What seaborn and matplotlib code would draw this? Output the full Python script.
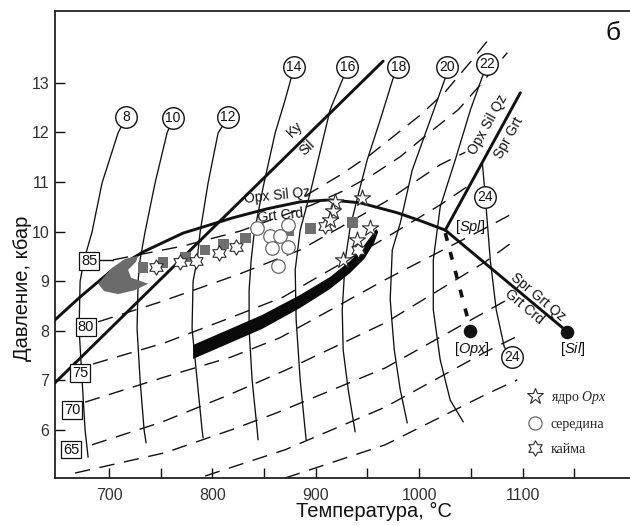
import matplotlib
matplotlib.use("Agg")
import matplotlib.pyplot as plt
from matplotlib.path import Path
from matplotlib.lines import Line2D
import seaborn as sns

# ---------------- data (T, °C ; P, kbar) ----------------
# solid isopleths (numbers in circles)
iso8_T = [679.7, 676.8, 673.9, 671.0, 672.0, 675.8, 683.5, 693.2, 708.7, 716.5]
iso8_P = [5.45, 6.00, 7.01, 8.04, 9.00, 9.43, 9.99, 10.98, 11.99, 12.31]
iso10_T = [735.8, 733.9, 730.0, 727.1, 728.1, 730.0, 734.8, 744.5, 756.1, 762.0]
iso10_P = [5.74, 6.00, 7.01, 8.04, 9.00, 9.43, 9.99, 10.98, 11.99, 12.29]
iso12_T = [791.0, 790.0, 785.2, 780.3, 781.3, 785.2, 788.1, 795.8, 805.5, 815.2]
iso12_P = [5.84, 6.00, 7.01, 8.04, 9.00, 9.43, 9.99, 10.98, 11.99, 12.31]
iso14_T = [844.2, 843.3, 838.4, 835.5, 835.5, 837.5, 840.4, 849.1, 860.7, 870.4, 879.1]
iso14_P = [5.80, 6.00, 7.01, 8.02, 8.82, 9.43, 9.97, 10.90, 11.99, 12.66, 13.32]
iso16_T = [890.7, 889.7, 884.9, 881.0, 880.1, 884.9, 894.6, 902.3, 913.9, 926.5, 930.4]
iso16_P = [5.80, 6.00, 7.01, 8.22, 9.23, 10.03, 10.78, 11.45, 12.46, 13.10, 13.32]
iso18_T = [938.1, 931.4, 926.5, 925.6, 928.5, 933.3, 941.0, 949.8, 962.3, 974.9, 979.8]
iso18_P = [5.96, 6.81, 7.61, 8.42, 9.43, 10.09, 10.74, 11.45, 12.25, 13.10, 13.32]
iso20_T = [988.5, 981.7, 975.9, 972.0, 974.0, 981.7, 993.3, 1010.7, 1025.3, 1027.2]
iso20_P = [6.14, 6.81, 7.62, 8.63, 9.63, 10.17, 11.24, 12.25, 13.10, 13.32]
iso22_T = [1042.7, 1030.1, 1020.4, 1013.7, 1013.7, 1020.4, 1035.0, 1049.5, 1061.1, 1065.9]
iso22_P = [6.16, 6.60, 7.41, 8.42, 9.43, 10.50, 11.45, 12.45, 13.12, 13.38]
iso24a_T = [1061.1, 1064.0]
iso24a_P = [11.40, 10.70]
iso24b_T = [1064.0, 1068.8, 1074.6, 1082.4, 1090.1]
iso24b_P = [10.70, 9.43, 8.42, 7.67, 7.47]

circ_labels = ["8", "10", "12", "14", "16", "18", "20", "22", "24", "24"]
circ_T = [716.5, 762.0, 815.2, 879.1, 930.4, 979.8, 1027.2, 1065.9, 1064.0, 1090.1]
circ_P = [12.31, 12.29, 12.31, 13.32, 13.32, 13.32, 13.32, 13.38, 10.70, 7.47]

# dashed isopleths (numbers in boxes)
d90_T = [889.7, 923.6, 952.7, 976.9, 1001.1, 1025.3, 1049.5, 1070.8]
d90_P = [10.72, 11.14, 11.55, 11.95, 12.35, 12.82, 13.42, 13.97]
d85_T = [703.9, 771.6, 826.8, 896.5, 928.5, 954.6, 981.7, 1010.7, 1037.9, 1059.1, 1085.3]
d85_P = [9.43, 9.71, 10.01, 10.54, 10.84, 11.14, 11.51, 12.01, 12.46, 12.96, 13.61]
d80_T = [689.4, 749.4, 826.8, 884.9, 967.2, 1020.4, 1044.6]
d80_P = [8.18, 8.58, 9.15, 9.63, 10.60, 11.35, 11.60]
d75_T = [684.5, 754.2, 817.1, 868.4, 967.2, 1020.4, 1049.5]
d75_P = [7.33, 7.76, 8.26, 8.68, 9.87, 10.54, 10.95]
d70_T = [676.8, 754.2, 818.1, 865.5, 967.2, 1064.0, 1088.2]
d70_P = [6.56, 7.07, 7.47, 7.86, 9.03, 10.07, 10.34]
d65_T = [683.5, 751.3, 815.2, 871.3, 967.2, 1064.0, 1093.0]
d65_P = [5.70, 6.16, 6.70, 7.21, 8.16, 9.39, 9.83]
d60_T = [667.1, 754.2, 818.1, 861.7, 967.2, 1064.0, 1088.2]
d60_P = [5.13, 5.54, 6.00, 6.34, 7.25, 8.38, 8.66]
d55_T = [792.9, 870.4, 967.2, 1064.0, 1097.9]
d55_P = [5.07, 5.60, 6.46, 7.57, 7.92]
d50_T = [870.4, 967.2, 1064.0, 1095.0]
d50_P = [5.03, 5.70, 6.71, 7.01]
lead85_T = [689.4, 703.9]
lead85_P = [9.43, 9.43]

box_labels = ["85", "80", "75", "70", "65"]
box_T = [680.6, 677.7, 671.9, 664.2, 663.2]
box_P = [9.41, 8.08, 7.15, 6.40, 5.60]

# reaction lines
rx_T = [647.7, 671.9, 701.0, 732.9, 771.6, 820.0, 852.9, 884.9, 913.9, 943.0, 978.8, 1001.1, 1025.3]
rx_P = [8.22, 8.68, 9.19, 9.59, 9.97, 10.28, 10.46, 10.60, 10.64, 10.58, 10.38, 10.22, 10.03]
kysil_T = [647.7, 965.2]
kysil_P = [6.95, 13.44]
splsil_T = [1025.3, 1143.4]
splsil_P = [10.03, 7.98]
splup_T = [1025.3, 1097.9]
splup_P = [10.03, 12.80]
splopx_T = [1025.3, 1049.5]
splopx_P = [9.97, 8.05]
inv_T = [1049.5, 1143.4]
inv_P = [8.00, 7.98]

# P-T path band and grey field
band_T = [781.3, 817.1, 848.1, 884.9, 913.9, 933.3, 944.9, 953.6, 958.5, 960.4,
          956.5, 946.9, 933.3, 913.9, 884.9, 848.1, 817.1, 781.3]
band_P = [7.714, 8.037, 8.319, 8.723, 9.086, 9.409, 9.671, 9.913, 10.054, 9.994,
          9.772, 9.449, 9.167, 8.844, 8.460, 8.037, 7.755, 7.432]
blob_T = [689.4, 702.9, 715.5, 728.1, 726.1, 718.4, 721.3, 737.8, 725.2, 708.7, 695.2]
blob_P = [8.95, 9.27, 9.45, 9.51, 9.39, 9.23, 9.07, 8.95, 8.82, 8.74, 8.80]

# analyses
sq_T = [732.9, 752.3, 773.6, 792.9, 810.4, 831.7, 873.3, 894.6, 935.2]
sq_P = [9.27, 9.37, 9.49, 9.63, 9.75, 9.87, 10.01, 10.07, 10.19]
mid_T = [843.3, 855.9, 865.5, 873.3, 857.8, 873.3, 863.6]
mid_P = [10.07, 9.91, 9.91, 10.14, 9.67, 9.69, 9.31]
core_T = [918.8, 944.9, 916.8, 913.9, 952.7, 940.1, 926.5]
core_P = [10.60, 10.68, 10.42, 10.24, 10.07, 9.83, 9.43]
rim_T = [745.5, 768.7, 784.2, 806.5, 822.9, 909.1, 941.0]
rim_P = [9.29, 9.39, 9.41, 9.57, 9.69, 10.11, 9.63]

# ---------------- figure ----------------
sns.set_theme(style="ticks")
plt.rcParams['font.family'] = ['Liberation Sans', 'DejaVu Sans']
plt.rcParams['mathtext.fontset'] = 'custom'
plt.rcParams['mathtext.rm'] = 'Liberation Serif'
plt.rcParams['mathtext.it'] = 'Liberation Serif:italic'
plt.rcParams['mathtext.sf'] = 'Liberation Sans:italic'

fig = plt.figure(figsize=(6.3, 5.26), dpi=100, facecolor='white')
ax = fig.add_axes([55/630, 48/526, 575/630, 467/526])
ax.set_facecolor('white')
ax.set_xlim(647.7, 1204)
ax.set_ylim(5.03, 14.45)

K = '#111111'

def draw(T, P, **kw):
    sns.lineplot(x=T, y=P, ax=ax, sort=False, estimator=None, legend=False, **kw)

# dashed isopleths
for T, P in [(d90_T, d90_P), (d85_T, d85_P), (d80_T, d80_P), (d75_T, d75_P),
             (d70_T, d70_P), (d65_T, d65_P), (d60_T, d60_P), (d55_T, d55_P),
             (d50_T, d50_P)]:
    draw(T, P, color=K, linewidth=1.0, linestyle=(0, (11, 7)), zorder=2)
draw(lead85_T, lead85_P, color=K, linewidth=1.0, zorder=2)

# solid isopleths
for T, P in [(iso8_T, iso8_P), (iso10_T, iso10_P), (iso12_T, iso12_P),
             (iso14_T, iso14_P), (iso16_T, iso16_P), (iso18_T, iso18_P),
             (iso20_T, iso20_P), (iso22_T, iso22_P), (iso24a_T, iso24a_P),
             (iso24b_T, iso24b_P)]:
    draw(T, P, color=K, linewidth=0.95, zorder=3)

# reaction lines
for T, P in [(rx_T, rx_P), (kysil_T, kysil_P), (splsil_T, splsil_P), (splup_T, splup_P)]:
    draw(T, P, color=K, linewidth=2.1, zorder=4)
draw(splopx_T, splopx_P, color=K, linewidth=2.6, linestyle=(0, (2.2, 3.2)), zorder=4)
sns.scatterplot(x=inv_T, y=inv_P, ax=ax, s=95, color=K, edgecolor=K, linewidth=0, zorder=6, legend=False)

# grey field and path
ax.fill(blob_T, blob_P, color='#6b6b6b', lw=0, zorder=5)
ax.fill(band_T, band_P, color='#0a0a0a', lw=0, zorder=5)

# analyses
star6 = Path.unit_regular_star(6, 0.577)
sns.scatterplot(x=sq_T, y=sq_P, ax=ax, marker='s', s=60, color='#6f6f6f', edgecolor='none', linewidth=0, zorder=6, legend=False)
sns.scatterplot(x=mid_T, y=mid_P, ax=ax, marker='o', s=95, color='white', edgecolor='#6a6a6a', linewidth=0.9, zorder=7, legend=False)
sns.scatterplot(x=rim_T, y=rim_P, ax=ax, marker=star6, s=120, color='white', edgecolor='#2a2a2a', linewidth=0.8, zorder=8, legend=False)
sns.scatterplot(x=core_T, y=core_P, ax=ax, marker='*', s=150, color='white', edgecolor='#2a2a2a', linewidth=0.8, zorder=8, legend=False)

# circle labels
sns.scatterplot(x=circ_T, y=circ_P, ax=ax, marker='o', s=240, color='white', edgecolor=K, linewidth=1.0, zorder=9, legend=False)
for lab, t, p in zip(circ_labels, circ_T, circ_P):
    ax.text(t, p, lab, ha='center', va='center', fontsize=10, color=K, zorder=10)

# box labels
for lab, t, p in zip(box_labels, box_T, box_P):
    ax.text(t, p, lab, ha='center', va='center', fontsize=10.5, color=K, zorder=10,
            bbox=dict(boxstyle='square,pad=0.12', fc='white', ec=K, lw=0.9))

# phase labels
tk = dict(color=K, zorder=10, ha='center', va='center', rotation_mode='anchor')
ax.text(880.0, 12.06, "Ky", fontsize=10, rotation=44, **tk)
ax.text(891.6, 11.69, "Sil", fontsize=10, rotation=44, **tk)
ax.text(862.6, 10.72, "Opx Sil Qz", fontsize=10, rotation=6, **tk)
ax.text(866.0, 10.33, "Grt Crd", fontsize=10, rotation=6, **tk)
ax.text(1066.8, 12.15, "Opx Sil Qz", fontsize=10, rotation=61, **tk)
ax.text(1086.3, 11.89, "Spr Grt", fontsize=10, rotation=61, **tk)
ax.text(1115.3, 8.68, "Spr Grt Qz", fontsize=10, rotation=-40, **tk)
ax.text(1101.7, 8.48, "Grt Crd", fontsize=10, rotation=-40, **tk)
ax.text(1049.5, 10.09, "[$\\mathsf{Spl}$]", fontsize=10.5, **tk)
ax.text(1051.4, 7.63, "[$\\mathsf{Opx}$]", fontsize=10.5, **tk)
ax.text(1148.2, 7.63, "[$\\mathsf{Sil}$]", fontsize=10.5, **tk)
ax.text(1187.9, 14.01, "б", fontsize=19, **tk)

# legend
handles = [
    Line2D([], [], ls='', marker='*', ms=12, mfc='white', mec='#2a2a2a', mew=0.8),
    Line2D([], [], ls='', marker='o', ms=9.5, mfc='white', mec='#6a6a6a', mew=0.9),
    Line2D([], [], ls='', marker=star6, ms=11, mfc='white', mec='#2a2a2a', mew=0.8),
]
labels = ["ядро $\\mathit{Opx}$", "середина", "кайма"]
ax.legend(handles, labels, loc='upper left', bbox_to_anchor=(0.822, 0.19),
          frameon=False, handlelength=1.0, handletextpad=0.65, labelspacing=0.85,
          borderpad=0, borderaxespad=0, prop={'family': 'Liberation Serif', 'size': 10})

# axes styling
ax.set_xticks([700, 800, 900, 1000, 1100])
ax.set_xticks([750, 850, 950, 1050, 1150], minor=True)
ax.set_yticks([6, 7, 8, 9, 10, 11, 12, 13])
ax.tick_params(axis='both', which='both', direction='in', length=7, width=1.0, color=K,
               labelsize=11.5, labelcolor='#333333')
ax.tick_params(axis='x', which='both', pad=7, top=False)
ax.tick_params(axis='y', pad=4, right=False)
for s in ['left', 'bottom', 'top']:
    ax.spines[s].set_linewidth(1.3)
    ax.spines[s].set_color('#222222')
ax.spines['right'].set_visible(False)

ax.set_xlabel("Температура, °C", fontsize=14.5, color=K)
ax.set_ylabel("Давление, кбар", fontsize=14.5, color=K)
ax.xaxis.set_label_coords(0.555, -0.052)
ax.yaxis.set_label_coords(-0.040, 0.407)

fig.savefig("out.png", dpi=100, facecolor='white')
